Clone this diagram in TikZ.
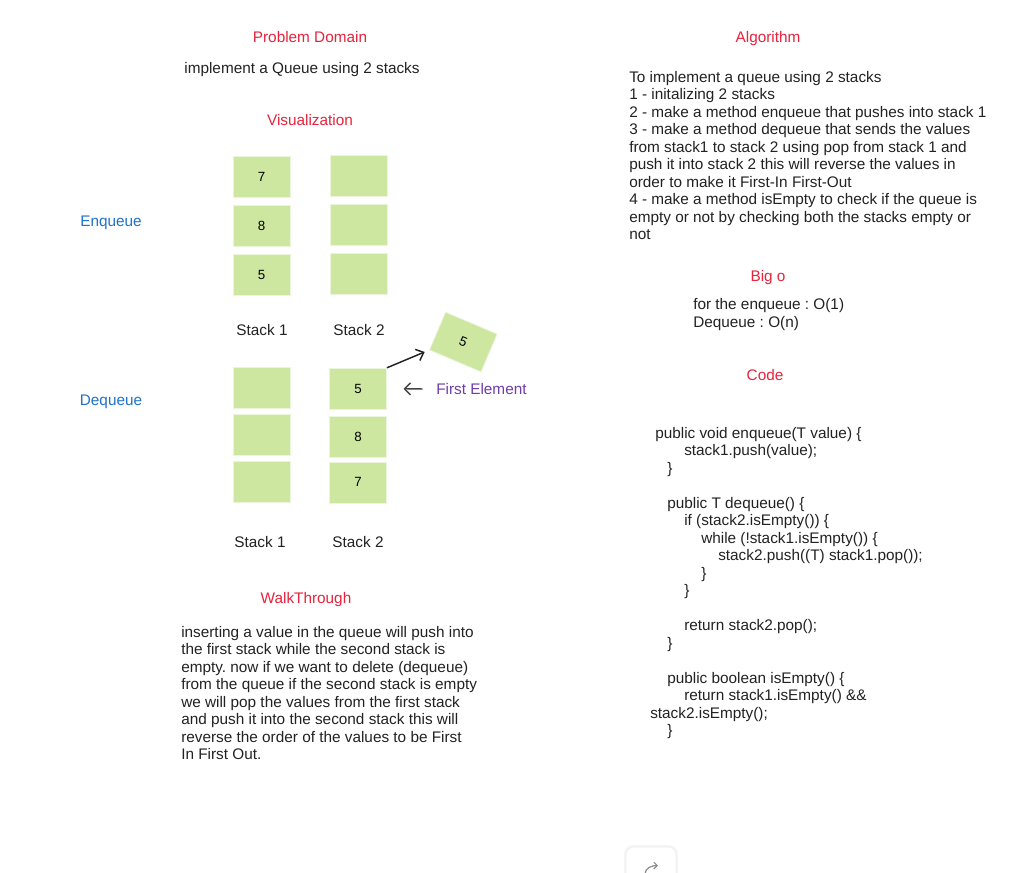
\documentclass[tikz,border=0pt]{standalone}
\usepackage{fontspec}
\setmainfont{Liberation Sans}
\usetikzlibrary{arrows.meta}
\frenchspacing
\definecolor{titlered}{RGB}{232,35,60}
\definecolor{labelblue}{RGB}{30,115,200}
\definecolor{notepurple}{RGB}{112,60,170}
\definecolor{cellgreen}{RGB}{205,230,160}
\definecolor{textgray}{RGB}{34,34,34}
\tikzset{cell/.style={draw=cellgreen!40!white, line width=0.6pt, fill=cellgreen, minimum width=42.75pt, minimum height=30.75pt, inner sep=0pt, text=black, font=\fontsize{10}{12}\selectfont}}
\tikzset{title/.style={text=titlered, inner sep=0pt, font=\fontsize{11.5}{13}\selectfont}}
\tikzset{side/.style={text=labelblue, inner sep=0pt, font=\fontsize{11.5}{13}\selectfont}}
\tikzset{body/.style={text=textgray, inner sep=0pt, align=left, font=\fontsize{11.5}{13.125}\selectfont}}

\begin{document}
\begin{tikzpicture}[x=0.75pt, y=-0.75pt]
        \fill[white] (0,0) rectangle (1028,872);
        \useasboundingbox (0,0) rectangle (1028,872);

        % left column
        \node[title] (Tproblem) at (310, 37) {Problem Domain};
        \node[body] (problem) at (302, 70) {implement a Queue using 2 stacks};
        \node[title] (Tvisual) at (310, 120) {Visualization};
        \node[side] (enq) at (111, 222.5) {Enqueue};
        \node[side] (deq) at (111, 401.5) {Dequeue};

        \node[cell] (E1a) at (261.5, 176.5) {7};
        \node[cell] (E1b) at (261.5, 225.5) {8};
        \node[cell] (E1c) at (261.5, 274.5) {5};
        \node[cell] (E2a) at (358.5, 175.8) {};
        \node[cell] (E2b) at (358.5, 224.5) {};
        \node[cell] (E2c) at (358.5, 273.5) {};
        \node[body] (Es1) at (262, 330) {Stack 1};
        \node[body] (Es2) at (359, 330) {Stack 2};

        \node[cell] (D1a) at (262, 387.8) {};
        \node[cell] (D1b) at (262, 435.2) {};
        \node[cell] (D1c) at (262, 482.2) {};
        \node[cell] (D2a) at (358, 388.7) {5};
        \node[cell] (D2b) at (358, 437.2) {8};
        \node[cell] (D2c) at (358, 482.4) {7};
        \node[body] (Ds1) at (260, 542) {Stack 1};
        \node[body] (Ds2) at (358, 542) {Stack 2};

        \node[cell, minimum width=42pt, rotate=-23] (popped) at (463.3, 342) {5};
        \node[text=notepurple, inner sep=0pt, font=\fontsize{11.5}{13}\selectfont, anchor=west] (first) at (436, 389) {First Element};

        \draw[line width=1.1pt, color=textgray, -{Straight Barb[length=5pt, width=9pt]}, shorten >=3.5pt] (D2a.north east) -- (popped.south west);
        \draw[line width=1pt, color=textgray!85, -{Straight Barb[length=4.5pt, width=9pt]}, shorten <=10pt, shorten >=12.5pt] (first.west) -- (D2a.east);

        \node[title] (Twalk) at (306, 599.5) {WalkThrough};
        \node[body, anchor=north west] (walk) at (181, 626) {inserting a value in the queue will push into\\
the first stack while the second stack is\\
empty. now if we want to delete (dequeue)\\
from the queue if the second stack is empty\\
we will pop the values from the first stack\\
and push it into the second stack this will\\
reverse the order of the values to be First\\
In First Out.};

        % right column
        \node[title] (Talgo) at (768, 38.5) {Algorithm};
        \node[body, anchor=north west] (algo) at (629, 71) {To implement a queue using 2 stacks\\
1 - initalizing 2 stacks\\
2 - make a method enqueue that pushes into stack 1\\
3 - make a method dequeue that sends the values\\
from stack1 to stack 2 using pop from stack 1 and\\
push it into stack 2 this will reverse the values in\\
order to make it First-In First-Out\\
4 - make a method isEmpty to check if the queue is\\
empty or not by checking both the stacks empty or\\
not};

        \node[title] (Tbig) at (768, 277.5) {Big o};
        \node[body, anchor=north west] (big) at (693, 298.5) {for the enqueue : O(1)\\
Dequeue : O(n)};

        \node[title] (Tcode) at (765, 375.5) {Code};
        \node[body, anchor=north west] (code) at (650, 427) {\hspace*{3.75pt}public void enqueue(T value) \{\\
\hspace*{25.5pt}stack1.push(value);\\
\hspace*{12.75pt}\}\\
\mbox{}\\
\hspace*{12.75pt}public T dequeue() \{\\
\hspace*{25.5pt}if (stack2.isEmpty()) \{\\
\hspace*{38.25pt}while (!stack1.isEmpty()) \{\\
\hspace*{51pt}stack2.push((T) stack1.pop());\\
\hspace*{38.25pt}\}\\
\hspace*{25.5pt}\}\\
\mbox{}\\
\hspace*{25.5pt}return stack2.pop();\\
\hspace*{12.75pt}\}\\
\mbox{}\\
\hspace*{12.75pt}public boolean isEmpty() \{\\
\hspace*{25.5pt}return stack1.isEmpty() \&\&\\
stack2.isEmpty();\\
\hspace*{12.75pt}\}};

        % redo button, cut off at the bottom
        \fill[black!4, rounded corners=7pt] (624,845) rectangle (678,900);
        \draw[draw=black!7, fill=white, rounded corners=6pt] (626,847) rectangle (676,900);
        \draw[line width=0.9pt, color=black!45, -{Straight Barb[length=2.5pt, width=5pt]}] (645,874) to[out=90, in=180] (658,865.5);
    \end{tikzpicture}
\end{document}
